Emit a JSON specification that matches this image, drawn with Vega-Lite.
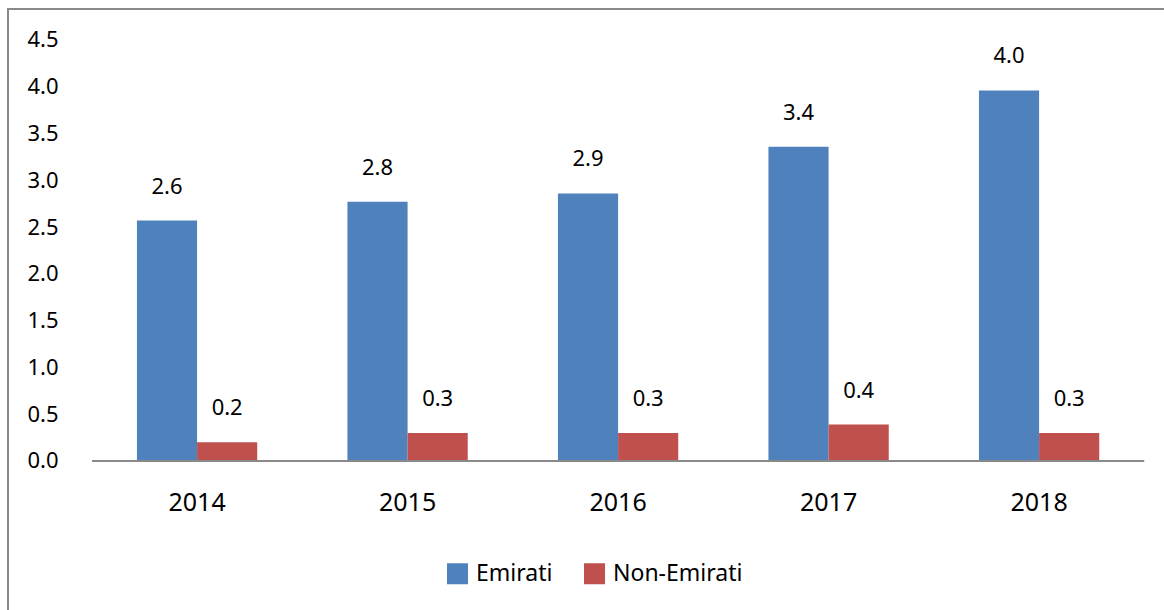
{
  "$schema": "https://vega.github.io/schema/vega-lite/v6.json",
  "width": 1166,
  "height": 616,
  "autosize": {"type": "none"},
  "padding": {"left": 8, "top": 9, "right": -10, "bottom": -15},
  "background": "white",
  "config": {
    "view": {"stroke": "#8a8a8a", "strokeWidth": 2},
    "font": "Noto Sans",
    "axis": {"labelFont": "Noto Sans", "labelFontSize": 22, "labelColor": "#000000", "grid": false, "ticks": false, "title": null, "domain": false},
    "legend": {"labelFont": "Noto Sans", "labelFontSize": 23, "labelColor": "#000000"}
  },
  "data": {
    "values": [
      {"year": "2014", "group": "Emirati", "value": 2.57},
      {"year": "2014", "group": "Non-Emirati", "value": 0.2},
      {"year": "2015", "group": "Emirati", "value": 2.77},
      {"year": "2015", "group": "Non-Emirati", "value": 0.3},
      {"year": "2016", "group": "Emirati", "value": 2.86},
      {"year": "2016", "group": "Non-Emirati", "value": 0.3},
      {"year": "2017", "group": "Emirati", "value": 3.36},
      {"year": "2017", "group": "Non-Emirati", "value": 0.39},
      {"year": "2018", "group": "Emirati", "value": 3.96},
      {"year": "2018", "group": "Non-Emirati", "value": 0.3}
    ]
  },
  "layer": [
    {
      "mark": {"type": "bar"},
      "encoding": {
        "x": {
          "field": "year", "type": "nominal",
          "scale": {"paddingInner": 0.4285, "paddingOuter": 0.4838, "align": 0.633},
          "axis": {"labelAngle": 0, "offset": -164, "labelPadding": 49, "labelBaseline": "alphabetic", "labelFontSize": 25}
        },
        "xOffset": {"field": "group", "type": "nominal", "scale": {"paddingInner": 0, "paddingOuter": 0}},
        "y": {
          "field": "value", "type": "quantitative",
          "scale": {"domain": [-1.753, 4.831], "nice": false, "zero": false},
          "axis": {"values": [0, 0.5, 1, 1.5, 2, 2.5, 3, 3.5, 4, 4.5], "format": ".1f", "offset": -50, "labelPadding": 0}
        },
        "y2": {"datum": 0},
        "color": {
          "field": "group", "type": "nominal",
          "scale": {"domain": ["Emirati", "Non-Emirati"], "range": ["#4F81BD", "#C0504D"]},
          "legend": {
            "title": null, "orient": "none", "direction": "horizontal",
            "legendX": 438, "legendY": 553,
            "symbolType": "square", "symbolSize": 441, "symbolStrokeWidth": 0,
            "labelOffset": 7, "columnPadding": 30
          }
        }
      }
    },
    {
      "mark": {"type": "text", "baseline": "alphabetic", "dy": -27, "fontSize": 22, "color": "#000000"},
      "encoding": {
        "x": {"field": "year", "type": "nominal"},
        "xOffset": {"field": "group", "type": "nominal"},
        "y": {"field": "value", "type": "quantitative"},
        "text": {"field": "value", "type": "quantitative", "format": ".1f"}
      }
    },
    {
      "data": {"values": [{}]},
      "mark": {"type": "rule", "color": "#898989", "strokeWidth": 2},
      "encoding": {
        "x": {"datum": "2014", "type": "nominal", "bandPosition": -0.374},
        "x2": {"datum": "2018", "bandPosition": 1.374},
        "y": {"datum": 0, "type": "quantitative"}
      }
    }
  ]
}
